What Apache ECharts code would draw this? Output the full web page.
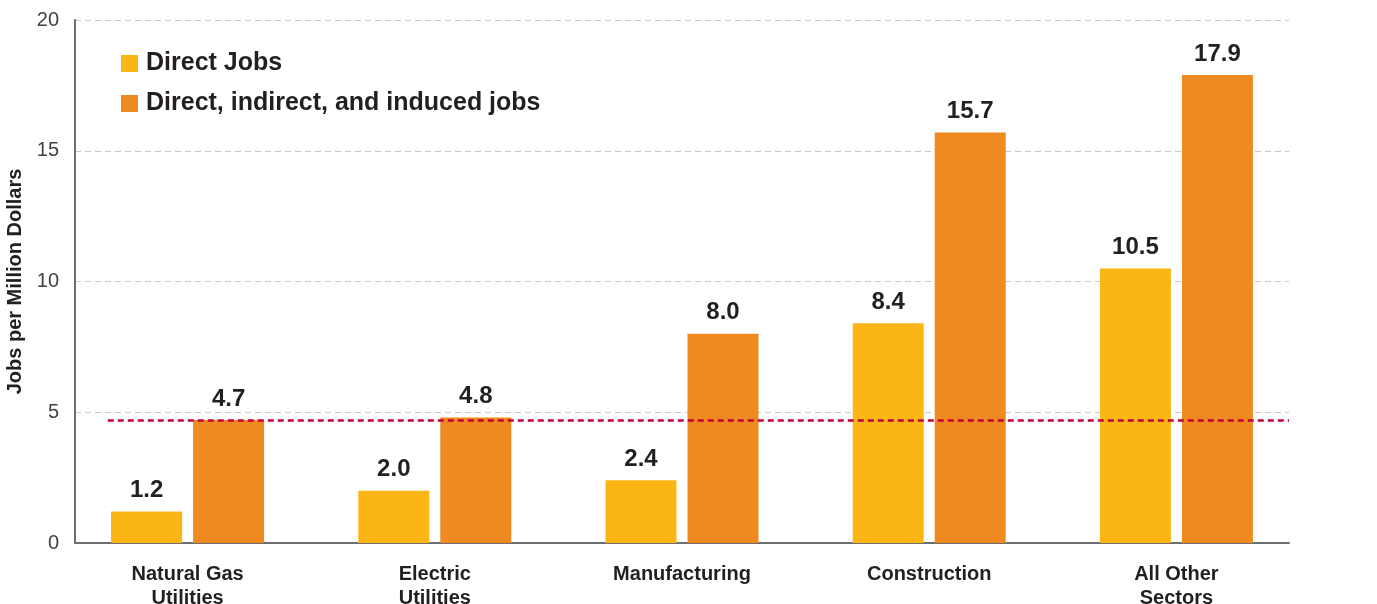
<!DOCTYPE html>
<html><head><meta charset="utf-8">
<script src="https://cdn.jsdelivr.net/npm/echarts@6/dist/echarts.min.js"></script>
<style>html,body{margin:0;padding:0;background:#fff}#c{width:1377px;height:604px}</style>
</head><body><div id="c"></div>
<script>
const categories = ['Natural Gas\nUtilities', 'Electric\nUtilities', 'Manufacturing', 'Construction', 'All Other\nSectors'];
const directJobs = [1.2, 2.0, 2.4, 8.4, 10.5];
const totalJobs = [4.7, 4.8, 8.0, 15.7, 17.9];
const seriesNames = ['Direct Jobs', 'Direct, indirect, and induced jobs'];
const benchmark = 4.7;
const yTicks = {min: 0, max: 20, interval: 5};
const FONT = '"Liberation Sans", Arial, sans-serif';

const chart = echarts.init(document.getElementById('c'));
const labelStyle = {show: true, position: 'top', distance: 9, fontFamily: FONT, fontWeight: 'bold', fontSize: 24, color: '#231f20', formatter: p => p.value.toFixed(1)};
chart.setOption({
  animation: false,
  textStyle: {fontFamily: FONT},
  grid: [
    {left: 64, right: 77, top: 20, bottom: 61, containLabel: false, outerBoundsMode: 'none'},
    {left: 75, right: 88, top: 20, bottom: 61, containLabel: false, outerBoundsMode: 'none'}
  ],
  legend: {
    orient: 'vertical', left: 116, top: 46, itemWidth: 17, itemHeight: 17, itemGap: 15,
    icon: 'rect',
    textStyle: {fontFamily: FONT, fontWeight: 'bold', fontSize: 25, color: '#231f20', padding: [0, 0, 0, 3]},
    data: seriesNames
  },
  xAxis: [
    {type: 'category', gridIndex: 0, data: categories,
     axisLine: {show: false}, axisTick: {show: false},
     axisLabel: {margin: 19, fontFamily: FONT, fontWeight: 'bold', fontSize: 20, color: '#231f20', lineHeight: 24}},
    {type: 'value', gridIndex: 1, min: 0, max: 1,
     axisLine: {show: true, lineStyle: {color: '#6d6e71', width: 2}}, axisTick: {show: false},
     axisLabel: {show: false}, splitLine: {show: false}}
  ],
  yAxis: [
    {type: 'value', gridIndex: 0, min: yTicks.min, max: yTicks.max, interval: yTicks.interval,
     axisLine: {show: false}, axisTick: {show: false}, axisLabel: {show: false}, splitLine: {show: false}},
    {type: 'value', gridIndex: 1, min: yTicks.min, max: yTicks.max, interval: yTicks.interval,
     name: 'Jobs per Million Dollars', nameLocation: 'middle', nameGap: 50, nameRotate: 90,
     nameTextStyle: {fontFamily: FONT, fontWeight: 'bold', fontSize: 20, color: '#231f20'},
     axisLine: {show: true, lineStyle: {color: '#6d6e71', width: 2}}, axisTick: {show: false},
     axisLabel: {margin: 16, fontFamily: FONT, fontSize: 20, color: '#414042'},
     splitLine: {show: true, lineStyle: {color: '#c8c8c8', type: [6, 4], width: 1}}}
  ],
  series: [
    {name: seriesNames[0], type: 'bar', xAxisIndex: 0, yAxisIndex: 0, data: directJobs,
     barWidth: 71, barGap: '15.5%', itemStyle: {color: '#fbb616'}, label: labelStyle},
    {name: seriesNames[1], type: 'bar', xAxisIndex: 0, yAxisIndex: 0, data: totalJobs,
     barWidth: 71, barGap: '15.5%', itemStyle: {color: '#ee8a1f'}, label: labelStyle},
    {type: 'line', xAxisIndex: 1, yAxisIndex: 1, data: [], z: 10,
     markLine: {silent: true, symbol: 'none', label: {show: false},
       lineStyle: {color: '#c1003b', type: [6, 4], width: 2.5},
       data: [[{coord: [0.027, benchmark]}, {coord: [1, benchmark]}]]}}
  ]
});
</script>
</body></html>
